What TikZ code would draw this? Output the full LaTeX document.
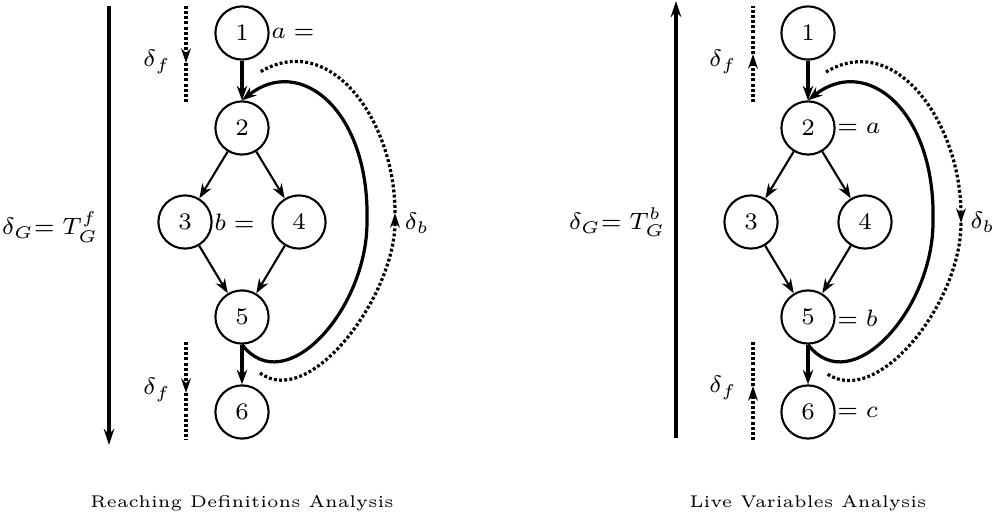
\documentclass[tikz,border=0pt]{standalone}
\usepackage{amsmath}
\usepackage{graphicx}
\usepackage{tikz}
\usetikzlibrary{arrows.meta,positioning,calc}

% small optical sizes, blown up like the scanned figure
\newcommand{\lbl}[1]{\scalebox{2.1}{\fontsize{7}{8.4}\selectfont #1}}
\newcommand{\captxt}[1]{\scalebox{2.1}{\fontsize{5}{6}\selectfont #1}}

\begin{document}
\begin{tikzpicture}[x=0.0218cm, y=-0.0218cm,
  cfgNode/.style ={circle, draw=black, line width=1.3pt, minimum size=1.16cm, inner sep=0pt},
  lblNode/.style ={inner sep=0pt},
  flowEdge/.style={-{Stealth[length=9pt,width=6.5pt]}, line width=1.3pt},
  heavyEdge/.style={-{Stealth[length=9pt,width=6.5pt]}, line width=2pt},
  bigArrow/.style={-{Stealth[length=10pt,width=6.5pt]}, line width=2pt},
  dotLine/.style ={line width=2pt, dash pattern=on 1.8pt off 1.4pt},
  dotArrow/.style={dotLine, -{Stealth[length=9pt,width=6pt]}},
]
\useasboundingbox (0,0) rectangle (992,523);

% the same flow graph twice
\foreach \s/\dx in {l/0,r/566} {
  \node[cfgNode] (\s1) at (242+\dx,33)  {\lbl{1}};
  \node[cfgNode] (\s2) at (242+\dx,128) {\lbl{2}};
  \node[cfgNode] (\s3) at (185+\dx,222) {\lbl{3}};
  \node[cfgNode] (\s4) at (299+\dx,222) {\lbl{4}};
  \node[cfgNode] (\s5) at (242+\dx,317) {\lbl{5}};
  \node[cfgNode] (\s6) at (242+\dx,412) {\lbl{6}};
  \coordinate (\s R) at (367+\dx,222);
  \draw[heavyEdge] (\s1) -- (\s2);
  \draw[flowEdge]  (\s2) -- (\s3);
  \draw[flowEdge]  (\s2) -- (\s4);
  \draw[flowEdge]  (\s3) -- (\s5);
  \draw[flowEdge]  (\s4) -- (\s5);
  \draw[heavyEdge] (\s5) -- (\s6);
  % back edge 5 -> 2
  \draw[heavyEdge] (\s5.south) .. controls +(43,56) and +(0,88) .. (\s R)
                   .. controls +(3,-112) and +(58,-46) .. (\s2.north);
}

% --- Reaching Definitions (forward)
\coordinate (lGtop) at (109,6);   \coordinate (lGbot) at (109,445);
\draw[bigArrow] (lGtop) -- (lGbot);
\node[lblNode] (lGlbl) at (50,227) {\lbl{$\delta_G{=}\;T_G^f$}};

\coordinate (lFa) at (186,6);   \coordinate (lFam) at (186,63);  \coordinate (lFb) at (186,102);
\coordinate (lFc) at (186,342); \coordinate (lFcm) at (186,393); \coordinate (lFd) at (186,440);
\draw[dotArrow] (lFa) -- (lFam);  \draw[dotLine] (lFam) -- (lFb);
\draw[dotArrow] (lFc) -- (lFcm);  \draw[dotLine] (lFcm) -- (lFd);
\node[lblNode] (lFlbl1) at (157,62)  {\lbl{$\delta_f$}};
\node[lblNode] (lFlbl2) at (157,390) {\lbl{$\delta_f$}};

\coordinate (lDbot) at (260,373); \coordinate (lDmid) at (395,213); \coordinate (lDtop) at (260,72);
\draw[dotArrow] (lDbot) .. controls +(50,37) and +(0,83) .. (lDmid);
\draw[dotLine]  (lDmid) .. controls +(0,-93) and +(70,-42) .. (lDtop);
\node[lblNode] (lBlbl) at (417,223) {\lbl{$\delta_b$}};

\node[lblNode, anchor=west] (aDef) at (271,33)  {\lbl{$a =$}};
\node[lblNode, anchor=west] (bDef) at (214,222) {\lbl{$b =$}};

\node[lblNode, anchor=base] (capL) at (242,507) {\captxt{Reaching Definitions Analysis}};

% --- Live Variables (backward)
\coordinate (rGbot) at (676,438); \coordinate (rGtop) at (676,1);
\draw[bigArrow] (rGbot) -- (rGtop);
\node[lblNode] (rGlbl) at (617,222) {\lbl{$\delta_G{=}\;T_G^b$}};

\coordinate (rFa) at (753,102); \coordinate (rFam) at (753,54);  \coordinate (rFb) at (753,6);
\coordinate (rFc) at (753,440); \coordinate (rFcm) at (753,386); \coordinate (rFd) at (753,342);
\draw[dotArrow] (rFa) -- (rFam);  \draw[dotLine] (rFam) -- (rFb);
\draw[dotArrow] (rFc) -- (rFcm);  \draw[dotLine] (rFcm) -- (rFd);
\node[lblNode] (rFlbl1) at (723,62)  {\lbl{$\delta_f$}};
\node[lblNode] (rFlbl2) at (723,388) {\lbl{$\delta_f$}};

\coordinate (rDtop) at (826,72); \coordinate (rDmid) at (961,223); \coordinate (rDbot) at (826,373);
\draw[dotArrow] (rDtop) .. controls +(70,-42) and +(0,-99) .. (rDmid);
\draw[dotLine]  (rDmid) .. controls +(0,81) and +(50,37) .. (rDbot);
\node[lblNode, anchor=west] (rBlbl) at (970,222) {\lbl{$\delta_b$}};

\node[lblNode, anchor=west] (aUse) at (837,128) {\lbl{$= a$}};
\node[lblNode, anchor=west] (bUse) at (837,318) {\lbl{$= b$}};
\node[lblNode, anchor=west] (cUse) at (837,412) {\lbl{$= c$}};

\node[lblNode, anchor=base] (capR) at (808,507) {\captxt{Live Variables Analysis}};
\end{tikzpicture}
\end{document}
